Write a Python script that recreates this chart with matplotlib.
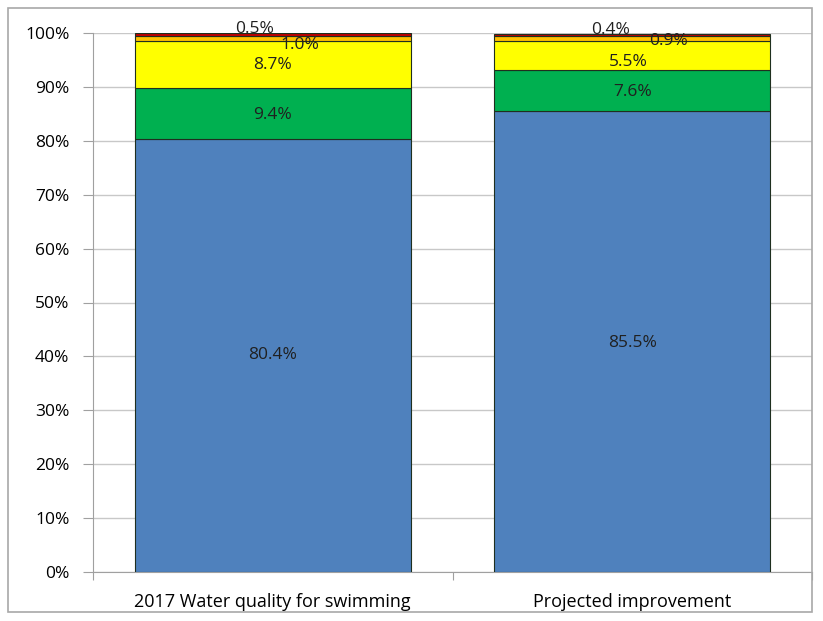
import matplotlib.pyplot as plt
from matplotlib.patches import Rectangle

categories = ["2017 Water quality for swimming", "Projected improvement"]
blue = [80.4, 85.5]
green = [9.4, 7.6]
yellow = [8.7, 5.5]
orange = [1.0, 0.9]
red = [0.5, 0.4]

series = [blue, green, yellow, orange, red]
colors = ["#4F81BD", "#00B050", "#FFFF00", "#FFC000", "#C00000"]
# label offsets (x in category units, y in %) so the thin segments don't overlap
offsets = [[(0, 0), (0, -0.3)], [(0, -0.3), (0, -0.3)], [(0, 0), (-0.01, -1.2)],
           [(0.075, -1.3), (0.1, -0.6)], [(-0.05, 0.9), (-0.06, 0.9)]]

plt.rcParams["font.family"] = ["Open Sans", "DejaVu Sans"]
fig = plt.figure(figsize=(8.23, 6.21), dpi=100)
ax = fig.add_axes([93 / 823, 1 - 572 / 621, (812 - 93) / 823, (572 - 33) / 621])

x = [0.5, 1.5]
bottom = [0, 0]
for vals, col, offs in zip(series, colors, offsets):
    ax.bar(x, vals, width=0.767, bottom=bottom, color=col, edgecolor="#1F2F1F",
           linewidth=0.8, zorder=3)
    for i in range(2):
        ax.text(x[i] + offs[i][0], bottom[i] + vals[i] / 2 + offs[i][1], f"{vals[i]:.1f}%",
                ha="center", va="center", fontsize=12.5, color="#202020", zorder=4)
    bottom = [b + v for b, v in zip(bottom, vals)]

ax.set_xlim(0, 2)
ax.set_ylim(0, 100)
ax.set_yticks(range(0, 101, 10))
ax.set_yticklabels([f"{t}%" for t in range(0, 101, 10)], fontsize=12.5)
ax.set_xticks([0, 1, 2])
ax.set_xticklabels([])
ax.set_xticks(x, minor=True)
ax.set_xticklabels(categories, minor=True, fontsize=13)
ax.tick_params(axis="x", which="minor", length=0, pad=15)
ax.tick_params(axis="x", which="major", length=6, color="#A0A0A0")
ax.tick_params(axis="y", length=7, color="#A0A0A0", pad=10)
ax.grid(axis="y", color="#C8C8C8", linewidth=1, zorder=0)
for s in ["top", "right"]:
    ax.spines[s].set_visible(False)
for s in ["left", "bottom"]:
    ax.spines[s].set_color("#A0A0A0")

fig.patches.append(Rectangle((8 / 823, 1 - 612 / 621), (812 - 8) / 823, (612 - 8) / 621,
                             transform=fig.transFigure, fill=False, edgecolor="#A8A8A8",
                             linewidth=1.2))

fig.savefig("out.png", dpi=100)
